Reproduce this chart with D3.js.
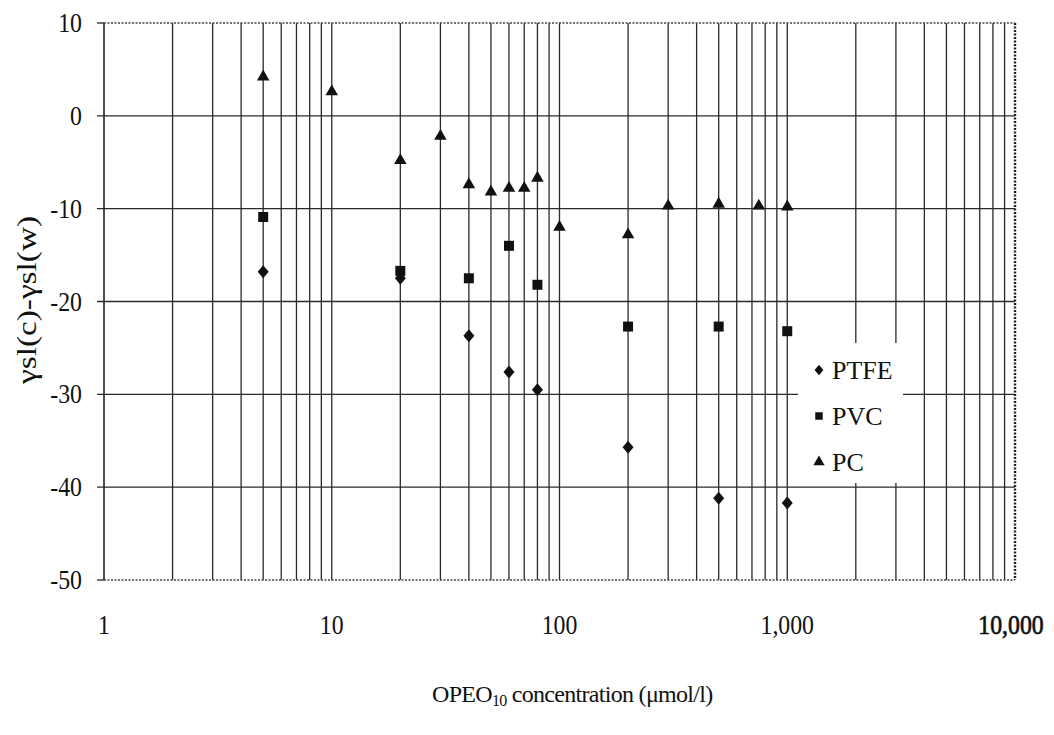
<!DOCTYPE html>
<html>
<head>
<meta charset="utf-8">
<script src="https://cdn.jsdelivr.net/npm/d3@7"></script>
<style>
  body { margin: 0; background: #fff; }
</style>
</head>
<body>
<svg id="chart" width="1054" height="735" font-family="'Liberation Serif', 'Times New Roman', serif"></svg>
<script>
// Concentrations (µmol/l) and surface tension differences per polymer
const ptfeX = [5, 20, 40, 60, 80, 200, 500, 1000];
const ptfeY = [-16.8, -17.5, -23.7, -27.6, -29.5, -35.7, -41.2, -41.7];
const pvcX = [5, 20, 40, 60, 80, 200, 500, 1000];
const pvcY = [-10.9, -16.7, -17.5, -14.0, -18.2, -22.7, -22.7, -23.2];
const pcX = [5, 10, 20, 30, 40, 50, 60, 70, 80, 100, 200, 300, 500, 750, 1000];
const pcY = [4.2, 2.6, -4.8, -2.2, -7.4, -8.2, -7.8, -7.8, -6.7, -12.0, -12.8, -9.7, -9.5, -9.7, -9.8];
const xTickValues = [1, 10, 100, 1000, 10000];
const xTickLabels = ["1", "10", "100", "1,000", "10,000"];
const yTickValues = [10, 0, -10, -20, -30, -40, -50];
const seriesNames = ["PTFE", "PVC", "PC"];

const svg = d3.select("#chart");
const serif = "'Liberation Serif', 'Times New Roman', serif";
const plotLeft = 104, plotRight = 1015, plotTop = 23, plotBottom = 580;

const x = d3.scaleLog().domain([1, 10000]).range([plotLeft, plotRight]);
const y = d3.scaleLinear().domain([-50, 10]).range([plotBottom, plotTop]);

const grid = svg.append("g").attr("stroke", "#2a2a2a").attr("stroke-width", 1.3);

// Vertical gridlines at every minor log step
const minorX = [];
for (let d = 1; d < 10000; d *= 10) for (let k = 1; k < 10; k++) minorX.push(d * k);
grid.selectAll("line.v").data(minorX.filter(v => v > 1)).join("line")
  .attr("x1", d => x(d)).attr("x2", d => x(d))
  .attr("y1", plotTop).attr("y2", plotBottom);

// Horizontal gridlines (extend left as tick marks)
grid.selectAll("line.h").data(yTickValues.filter(v => v !== 10 && v !== -50)).join("line")
  .attr("x1", plotLeft - 7).attr("x2", plotRight)
  .attr("y1", d => y(d)).attr("y2", d => y(d));

// Frame: solid left axis, dotted top/bottom/right
svg.append("line").attr("x1", plotLeft).attr("x2", plotLeft).attr("y1", plotTop).attr("y2", plotBottom)
  .attr("stroke", "#222").attr("stroke-width", 1.6);
[10, -50].forEach(v => {
  svg.append("line").attr("x1", plotLeft - 7).attr("x2", plotLeft).attr("y1", y(v)).attr("y2", y(v))
    .attr("stroke", "#222").attr("stroke-width", 1.3);
  svg.append("line").attr("x1", plotLeft).attr("x2", plotRight).attr("y1", y(v)).attr("y2", y(v))
    .attr("stroke", "#444").attr("stroke-width", 1.4).attr("stroke-dasharray", "2,1.5");
});
svg.append("line").attr("x1", plotRight).attr("x2", plotRight).attr("y1", plotTop).attr("y2", plotBottom)
  .attr("stroke", "#222").attr("stroke-width", 2.4).attr("stroke-dasharray", "2,1.5");

// Y tick labels
svg.append("g").selectAll("text").data(yTickValues).join("text")
  .attr("font-family", serif).attr("fill", "#111")
  .attr("text-anchor", "end")
  .attr("transform", d => `translate(82,${y(d) + 9}) scale(0.85,1)`)
  .attr("font-size", 28)
  .text(d => d);

// X tick labels
svg.append("g").selectAll("text").data(xTickValues).join("text")
  .attr("font-family", serif).attr("fill", "#111")
  .attr("text-anchor", "middle")
  .attr("transform", (d, i) => `translate(${x(d) + (i === 4 ? -4 : 0)},634) scale(0.85,1)`)
  .attr("font-size", 28)
  .attr("stroke", (d, i) => i === 4 ? "#111" : "none")
  .attr("stroke-width", 0.7)
  .text((d, i) => xTickLabels[i]);

// Axis titles
const xt = svg.append("text").attr("font-family", serif).attr("fill", "#111")
  .attr("x", 432).attr("y", 702).attr("font-size", 24).attr("letter-spacing", -0.7);
xt.append("tspan").text("OPEO");
xt.append("tspan").attr("font-size", 16).attr("baseline-shift", "-25%").text("10");
xt.append("tspan").text(" concentration (\u03bcmol/l)");

svg.append("text").attr("font-family", serif).attr("fill", "#111")
  .attr("transform", "translate(36,300) rotate(-90)")
  .attr("text-anchor", "middle").attr("font-size", 27)
  .attr("textLength", 168).attr("lengthAdjust", "spacingAndGlyphs")
  .text("\u03b3sl(c)-\u03b3sl(w)");

// Marker shapes
const diamond = "M0,-6.5L5.5,0L0,6.5L-5.5,0Z";
const square = d3.symbol().type(d3.symbolSquare).size(100)();
const triangle = d3.symbol().type(d3.symbolTriangle).size(68)();

const marks = svg.append("g").attr("fill", "#111");
marks.selectAll("path.ptfe").data(d3.zip(ptfeX, ptfeY)).join("path")
  .attr("d", diamond).attr("transform", d => `translate(${x(d[0])},${y(d[1])})`);
marks.selectAll("path.pvc").data(d3.zip(pvcX, pvcY)).join("path")
  .attr("d", square).attr("transform", d => `translate(${x(d[0])},${y(d[1])})`);
marks.selectAll("path.pc").data(d3.zip(pcX, pcY)).join("path")
  .attr("d", triangle).attr("transform", d => `translate(${x(d[0])},${y(d[1])})`);

// Legend
const lg = svg.append("g");
lg.append("rect").attr("x", 798).attr("y", 343).attr("width", 105).attr("height", 140).attr("fill", "#fff");
const shapes = [diamond, square, triangle];
const scales = ["scale(0.8)", "scale(0.75)", "scale(0.9)"];
seriesNames.forEach((name, i) => {
  const cy = 370 + i * 46;
  lg.append("path").attr("d", shapes[i]).attr("fill", "#111")
    .attr("transform", `translate(819,${cy}) ${scales[i]}`);
  lg.append("text").attr("font-family", serif).attr("fill", "#111")
    .attr("x", 832).attr("y", cy + 9).attr("font-size", 26).text(name);
});
</script>
</body>
</html>
